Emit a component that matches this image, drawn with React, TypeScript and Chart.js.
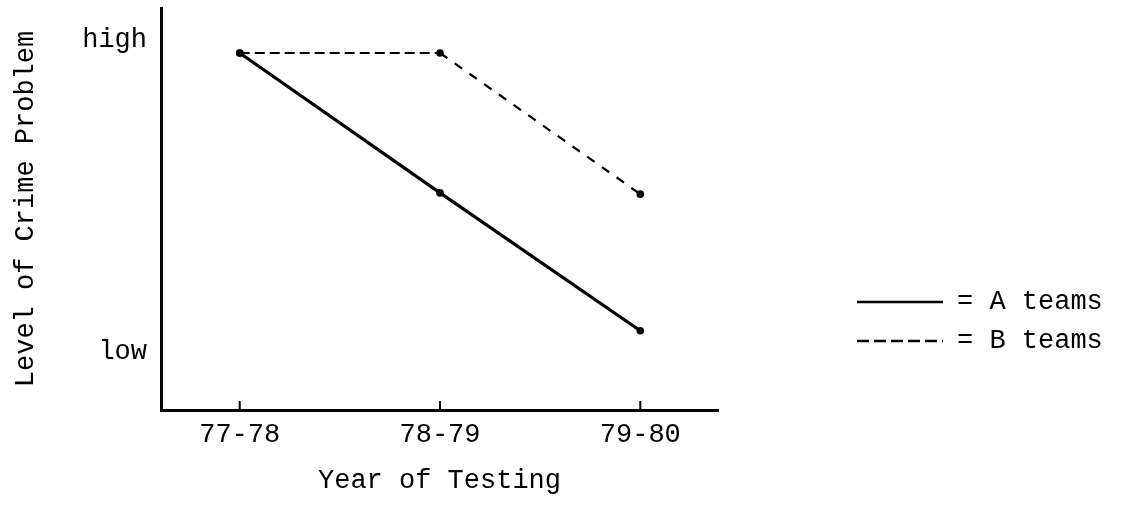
import React, { useEffect, useRef } from "react";
import { Chart, registerables } from "chart.js";

Chart.register(...registerables);

// ---- data ----
const xLabels = ["77-78", "78-79", "79-80"];
const seriesNames = ["A teams", "B teams"];
const aTeams = [8.88, 5.4, 1.97];
const bTeams = [8.88, 8.88, 5.37];
const yTickValues = [1.44, 9.2];
const yTickLabels = ["low", "high"];
const xTitle = "Year of Testing";
const yTitle = "Level of Crime Problem";

const FONT = "'Liberation Mono', 'DejaVu Sans Mono', monospace";
const FS = 27;
const WEIGHT = "normal";
const INK = "#000000";

const legendPlugin = {
  id: "typedLegend",
  afterDraw(chart: any) {
    const ctx = chart.ctx;
    const xScale = chart.scales.x;
    const bottom = chart.chartArea.bottom;
    ctx.save();
    // small upward tick marks on the x axis
    ctx.strokeStyle = INK;
    ctx.lineWidth = 2;
    ctx.setLineDash([]);
    xScale.ticks.forEach((t: any) => {
      const px = xScale.getPixelForValue(t.value);
      ctx.beginPath();
      ctx.moveTo(px, bottom);
      ctx.lineTo(px, bottom - 9);
      ctx.stroke();
    });
    // legend
    const rows = [302, 341];
    const dashes = [[], [12, 5]];
    chart.data.datasets.forEach((ds: any, i: number) => {
      const y = rows[i];
      ctx.strokeStyle = INK;
      ctx.lineWidth = 2.5;
      ctx.setLineDash(dashes[i]);
      ctx.beginPath();
      ctx.moveTo(857, y);
      ctx.lineTo(943, y);
      ctx.stroke();
      ctx.setLineDash([]);
      ctx.fillStyle = INK;
      ctx.font = `${WEIGHT} ${FS}px ${FONT}`;
      ctx.textBaseline = "middle";
      ctx.textAlign = "left";
      ctx.fillText(`= ${ds.label}`, 957, y);
    });
    ctx.restore();
  },
};

export default function App() {
  const ref = useRef<HTMLCanvasElement | null>(null);

  useEffect(() => {
    document.body.style.margin = "0";
    const canvas = ref.current;
    if (!canvas) return;
    const chart = new Chart(canvas, {
      type: "line",
      data: {
        datasets: [
          {
            label: seriesNames[0],
            data: aTeams.map((v, i) => ({ x: i, y: v })),
            borderColor: INK,
            backgroundColor: INK,
            borderWidth: 3.2,
            pointRadius: 3.8,
            pointBackgroundColor: INK,
            pointBorderWidth: 0,
            tension: 0,
          },
          {
            label: seriesNames[1],
            data: bTeams.map((v, i) => ({ x: i, y: v })),
            borderColor: INK,
            backgroundColor: INK,
            borderWidth: 2.2,
            borderDash: [10, 5],
            segment: {
              borderDash: (c: any) => (c.p0DataIndex === 1 ? [9, 9] : [10, 5]),
            },
            pointRadius: 3.8,
            pointBackgroundColor: INK,
            pointBorderWidth: 0,
            tension: 0,
          },
        ],
      },
      options: {
        animation: false,
        responsive: false,
        maintainAspectRatio: false,
        layout: { padding: { left: 0, top: 8, right: 405, bottom: 8.6 } },
        plugins: {
          legend: { display: false },
          tooltip: { enabled: false },
        },
        scales: {
          x: {
            type: "linear",
            min: -0.393,
            max: 2.388,
            grid: { display: false, drawTicks: false },
            border: { display: true, color: INK, width: 3 },
            afterBuildTicks: (s: any) => {
              s.ticks = xLabels.map((_, i) => ({ value: i }));
            },
            ticks: {
              color: INK,
              padding: 11.5,
              font: { family: FONT, size: FS, weight: WEIGHT, lineHeight: 1.0 },
              callback: (v: any) => xLabels[Math.round(Number(v))] ?? "",
              maxRotation: 0,
              autoSkip: false,
            },
            title: {
              display: true,
              text: xTitle,
              color: INK,
              font: { family: FONT, size: FS, weight: WEIGHT, lineHeight: 1.2 },
              padding: { top: 5, bottom: 0 },
            },
          },
          y: {
            type: "linear",
            min: 0,
            max: 10,
            grid: { display: false, drawTicks: true, tickLength: 8 },
            border: { display: true, color: INK, width: 3 },
            afterBuildTicks: (s: any) => {
              s.ticks = yTickValues.map((v) => ({ value: v }));
            },
            ticks: {
              color: INK,
              padding: 6,
              font: { family: FONT, size: FS, weight: WEIGHT, lineHeight: 0.1 },
              callback: (v: any) => {
                const i = yTickValues.indexOf(Number(v));
                return i >= 0 ? yTickLabels[i] : "";
              },
              autoSkip: false,
            },
            title: {
              display: true,
              text: yTitle,
              color: INK,
              font: { family: FONT, size: FS, weight: WEIGHT, lineHeight: 1.2 },
              padding: { top: 9.8, bottom: 34 },
            },
          },
        },
      },
      plugins: [legendPlugin],
    } as any);
    return () => chart.destroy();
  }, []);

  return (
    <div style={{ width: 1123, height: 506, background: "#ffffff" }}>
      <canvas ref={ref} width={1123} height={506} style={{ display: "block" }} />
    </div>
  );
}
